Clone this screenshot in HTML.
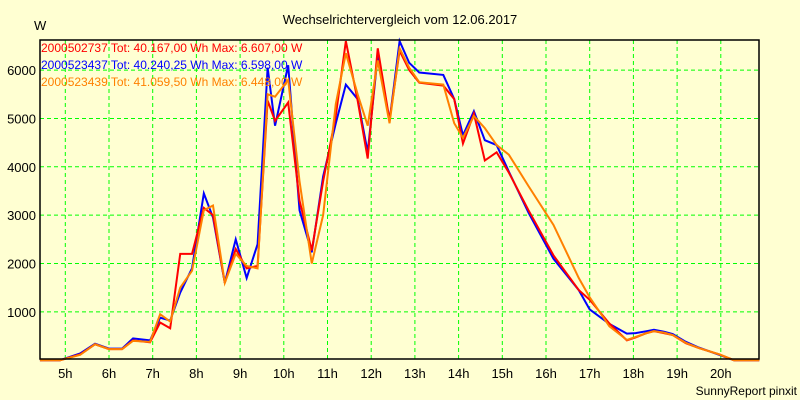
<!DOCTYPE html>
<html><head><meta charset="utf-8"><style>
body{margin:0;background:#ffffd2;}
svg{display:block;font-family:"Liberation Sans",sans-serif;}
</style></head><body>
<svg id="c" width="800" height="400">
<rect x="0" y="0" width="800" height="400" fill="#ffffd2"/>
<text x="400" y="24" text-anchor="middle" font-size="13">Wechselrichtervergleich vom 12.06.2017</text>
<text x="34" y="30" font-size="13">W</text>
<g id="grid"></g><g id="series"></g>
<rect x="40" y="40" width="719" height="319" fill="none" stroke="#000" stroke-width="1.5"/>
<g font-size="12">
<text x="41" y="52" fill="#ff0000">2000502737 Tot: 40.167,00 Wh Max: 6.607,00 W</text>
<text x="41" y="69" fill="#0000ff">2000523437 Tot: 40.240,25 Wh Max: 6.598,00 W</text>
<text x="41" y="86" fill="#ff8000">2000523439 Tot: 41.059,50 Wh Max: 6.448,00 W</text>
</g>
<text x="797" y="395" text-anchor="end" font-size="12">SunnyReport pinxit</text>
</svg>
<script>
const xTicks=[5,6,7,8,9,10,11,12,13,14,15,16,17,18,19,20];
const yTicks=[1000,2000,3000,4000,5000,6000];
const times=[4.42,4.88,5.34,5.68,6,6.3,6.55,6.94,7.17,7.4,7.63,7.9,8.17,8.38,8.65,8.9,9.15,9.4,9.63,9.8,10.1,10.36,10.64,10.9,11.19,11.42,11.69,11.92,12.15,12.42,12.65,12.87,13.1,13.65,13.9,14.1,14.35,14.6,14.87,15.15,15.6,16.17,16.75,17,17.45,17.85,18.05,18.3,18.47,18.7,18.9,19.2,19.5,19.97,20.3,20.88];
const red=[0,0,120,330,230,230,410,370,780,660,2200,2200,3150,3000,1600,2300,1900,1950,5370,4950,5330,3300,2270,3700,5060,6600,5370,4170,6450,4960,6400,6000,5740,5680,5400,4480,5100,4130,4300,3880,3100,2170,1450,1250,760,410,470,560,600,560,520,350,250,120,0,0];
const blue=[0,0,140,340,240,240,450,410,880,820,1400,1900,3450,2950,1600,2500,1700,2400,6050,4850,6100,3100,2230,3800,4900,5700,5400,4300,6300,4950,6600,6150,5950,5900,5400,4650,5150,4550,4450,3900,3050,2100,1450,1050,750,550,560,600,630,590,540,380,260,110,0,0];
const orange=[0,0,110,330,230,230,400,380,950,800,1500,1850,3100,3200,1600,2200,1950,1900,5500,5450,5800,3700,2000,3000,5300,6350,5500,4850,6200,4900,6450,6050,5750,5700,4900,4600,5050,4800,4450,4250,3600,2800,1700,1300,700,420,480,560,600,570,520,360,250,120,0,0];
const xs=t=>65.3+(t-5)*43.7;
const ys=v=>360.2-v*0.04835;
const NS="http://www.w3.org/2000/svg";
const svg=document.getElementById('c');
const grid=document.getElementById('grid');
const ser=document.getElementById('series');
xTicks.forEach(t=>{
 const l=document.createElementNS(NS,'line');
 
 
 l.setAttribute('x1',xs(t));l.setAttribute('x2',xs(t));l.setAttribute('y1',40);l.setAttribute('y2',359);
 l.setAttribute('stroke','#00ff00');l.setAttribute('stroke-dasharray','4,3');
 grid.appendChild(l);
 const tx=document.createElementNS(NS,'text');
 
 
 tx.setAttribute('x',xs(t));tx.setAttribute('y',378);tx.setAttribute('text-anchor','middle');tx.setAttribute('font-size','13');
 tx.textContent=t+'h';svg.appendChild(tx);
});
yTicks.forEach(v=>{
 const l=document.createElementNS(NS,'line');
 
 
 l.setAttribute('x1',40);l.setAttribute('x2',759);l.setAttribute('y1',ys(v));l.setAttribute('y2',ys(v));
 l.setAttribute('stroke','#00ff00');l.setAttribute('stroke-dasharray','4,3');
 grid.appendChild(l);
 const tx=document.createElementNS(NS,'text');
 
 
 tx.setAttribute('x',36);tx.setAttribute('y',ys(v)+5);tx.setAttribute('text-anchor','end');tx.setAttribute('font-size','13');
 tx.textContent=v;svg.appendChild(tx);
});
[[blue,'#0000ff','series-2000523437'],[red,'#ff0000','series-2000502737'],[orange,'#ff8000','series-2000523439']].forEach(([d,c,n])=>{
 const p=document.createElementNS(NS,'polyline');
 
 
 p.setAttribute('points',times.map((t,i)=>xs(t)+','+ys(d[i])).join(' '));
 p.setAttribute('fill','none');p.setAttribute('stroke',c);p.setAttribute('stroke-width','2');
 ser.appendChild(p);
});
</script>
</body></html>
